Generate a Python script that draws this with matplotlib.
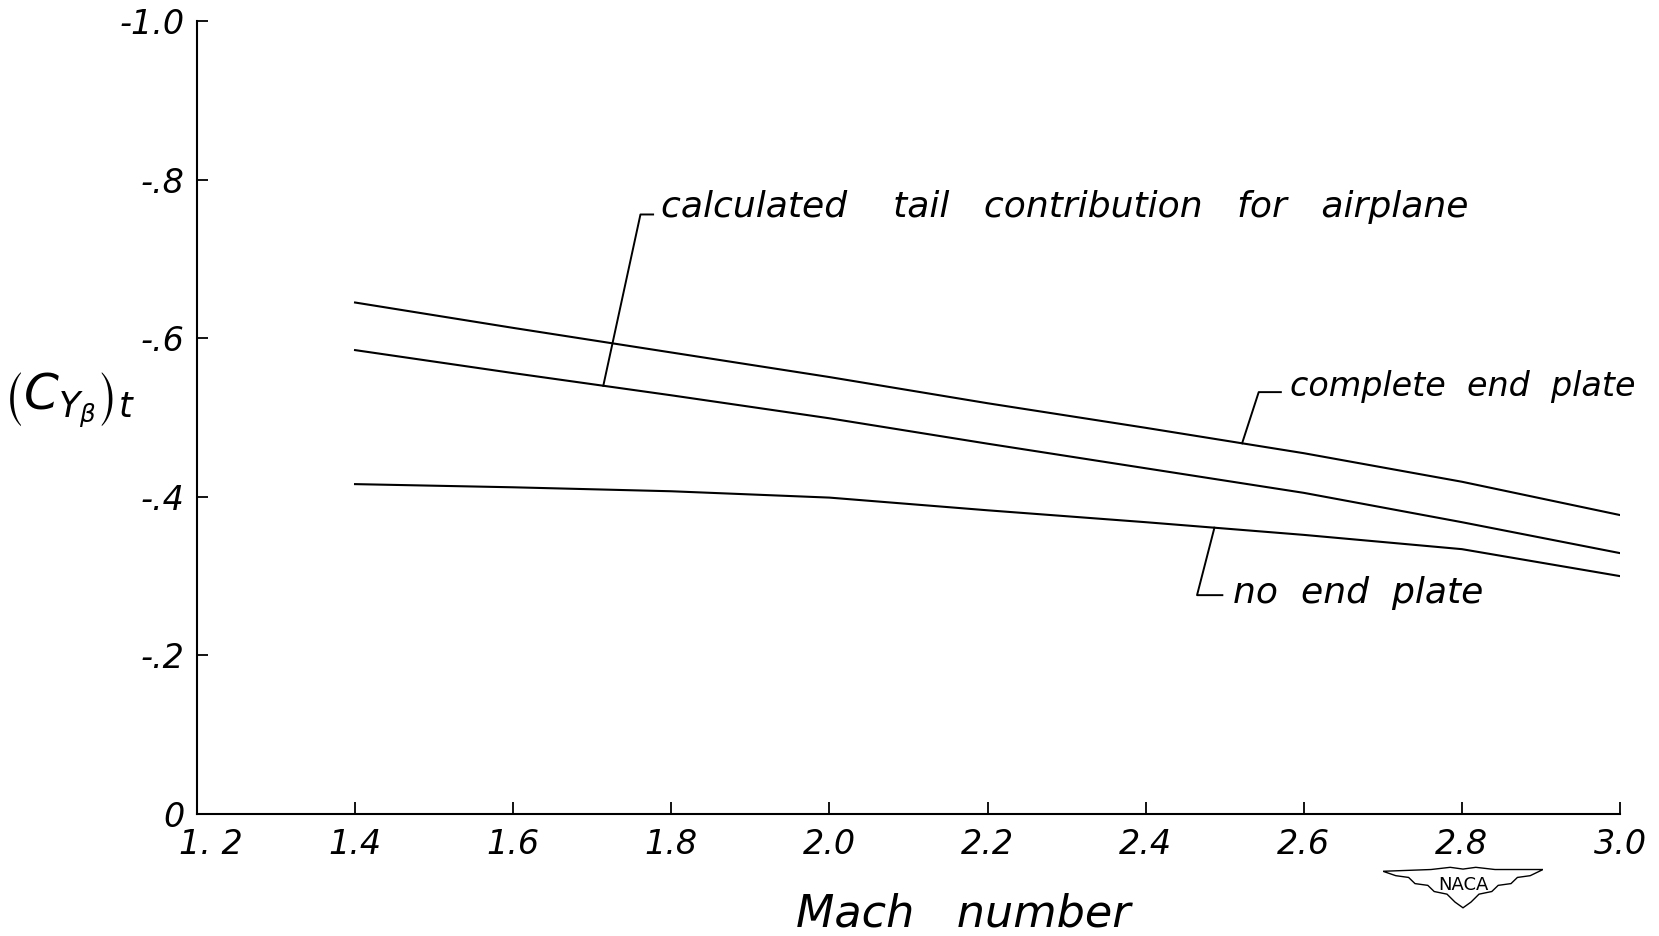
import matplotlib
matplotlib.use('Agg')
import numpy as np
import matplotlib.pyplot as plt
import matplotlib.transforms as mtransforms
from matplotlib.patches import Polygon

# values (side-force derivative of the tail)
mach = [1.4, 1.6, 1.8, 2.0, 2.2, 2.4, 2.6, 2.8, 3.0]
complete_end_plate = [-0.645, -0.613, -0.582, -0.551, -0.518, -0.487, -0.455, -0.419, -0.377]
calc_airplane = [-0.585, -0.556, -0.528, -0.499, -0.467, -0.436, -0.405, -0.368, -0.329]
no_end_plate = [-0.416, -0.412, -0.407, -0.399, -0.383, -0.368, -0.352, -0.334, -0.300]

xticks = [1.2, 1.4, 1.6, 1.8, 2.0, 2.2, 2.4, 2.6, 2.8, 3.0]
xlabels = ['1. 2', '1.4', '1.6', '1.8', '2.0', '2.2', '2.4', '2.6', '2.8', '3.0']
yticks = [0, -0.2, -0.4, -0.6, -0.8, -1.0]
ylabels = ['0', '-.2', '-.4', '-.6', '-.8', '-1.0']

plt.rcParams['font.family'] = 'DejaVu Sans'
plt.rcParams['mathtext.fontset'] = 'dejavusans'

fig = plt.figure(figsize=(16.59, 9.36), dpi=100)
ax = fig.add_axes([0.1187, 0.1303, 0.8578, 0.8473])

lw = 1.5
ax.plot(mach, complete_end_plate, color='black', lw=lw)
ax.plot(mach, calc_airplane, color='black', lw=lw)
ax.plot(mach, no_end_plate, color='black', lw=lw)

ax.set_xlim(1.2, 3.0)
ax.set_ylim(0, -1.0)
for s in ['top', 'right']:
    ax.spines[s].set_visible(False)
for s in ['left', 'bottom']:
    ax.spines[s].set_linewidth(1.5)

ax.set_xticks(xticks)
ax.set_xticklabels(xlabels, fontsize=24, fontstyle='italic')
ax.set_yticks(yticks)
ax.set_yticklabels(ylabels, fontsize=24, fontstyle='italic')
ax.tick_params(axis='x', direction='in', length=9, width=1.3, pad=10)
ax.tick_params(axis='y', direction='in', length=8, width=1.3, pad=9)
# hand lettered "1. 2" sits a little right of its tick
lab0 = ax.get_xticklabels()[0]
lab0.set_transform(lab0.get_transform() +
                   mtransforms.ScaledTranslation(10 / 72, 0, fig.dpi_scale_trans))

fig.text(0.5804, 0.010, 'Mach   number', fontsize=32, fontstyle='italic',
         ha='center', va='baseline')
fig.text(0.042, 0.573, r'$\left(C_{Y_{\beta}}\right)_t$', fontsize=36,
         ha='center', va='center')

# leaders and notes
def leader(pts):
    xs, ys = zip(*pts)
    ax.plot(xs, ys, color='black', lw=1.4, clip_on=False)

tfs = 26
m1 = 1.714
leader([(1.777, -0.756), (1.761, -0.756), (m1, np.interp(m1, mach, calc_airplane))])
ax.text(1.787, -0.766, 'calculated    tail   contribution   for   airplane',
        fontsize=tfs, fontstyle='italic', ha='left', va='center')

m2 = 2.522
leader([(2.571, -0.532), (2.543, -0.532), (m2, np.interp(m2, mach, complete_end_plate))])
ax.text(2.583, -0.539, 'complete  end  plate', fontsize=24, fontstyle='italic',
        ha='left', va='center')

m3 = 2.487
leader([(m3, np.interp(m3, mach, no_end_plate)), (2.465, -0.276), (2.497, -0.276)])
ax.text(2.511, -0.279, 'no  end  plate', fontsize=tfs, fontstyle='italic',
        ha='left', va='center')

# NACA wing logo
lax = fig.add_axes([1383 / 1659, 1 - 910 / 936, 160 / 1659, 44 / 936])
lax.set_xlim(0, 1)
lax.set_ylim(0, 1)
lax.axis('off')
wing = [(0.0, 0.88), (0.3, 0.92), (0.42, 0.97), (0.5, 0.93), (0.58, 0.97), (0.7, 0.92),
        (1.0, 0.92), (0.92, 0.78), (0.84, 0.74), (0.8, 0.6), (0.72, 0.56), (0.68, 0.42),
        (0.6, 0.36), (0.55, 0.18), (0.5, 0.05), (0.45, 0.18), (0.4, 0.36), (0.32, 0.42),
        (0.28, 0.56), (0.2, 0.6), (0.16, 0.74), (0.08, 0.78)]
lax.add_patch(Polygon(wing, closed=True, fill=False, lw=1.0, ec='black'))
lax.text(0.5, 0.56, 'NACA', fontsize=13, ha='center', va='center')

fig.savefig('out.png', dpi=100)
